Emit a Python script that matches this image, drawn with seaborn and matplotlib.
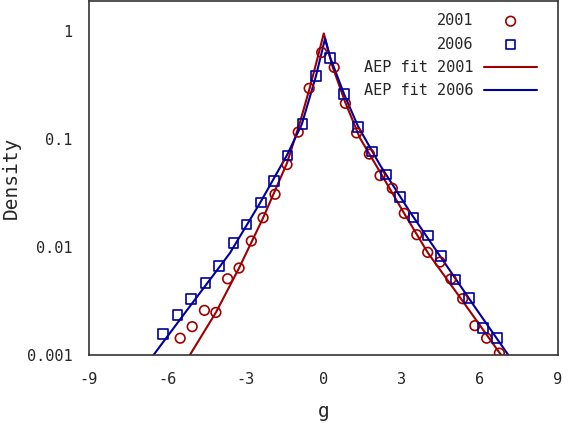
import matplotlib
matplotlib.use("Agg")
import matplotlib.pyplot as plt
import numpy as np
import pandas as pd
import seaborn as sns
from matplotlib.ticker import FixedLocator, NullFormatter, LogLocator

g_2001 = [-5.50, -5.04, -4.57, -4.13, -3.68, -3.24, -2.77, -2.32, -1.86, -1.40,
          -0.97, -0.55, -0.07, 0.41, 0.84, 1.27, 1.76, 2.17, 2.64, 3.10,
          3.58, 4.00, 4.47, 4.89, 5.34, 5.81, 6.26, 6.75]
d_2001 = [0.00143, 0.00183, 0.00259, 0.00248, 0.00508, 0.00639, 0.01137, 0.01867, 0.0308, 0.0581,
          0.116, 0.295, 0.635, 0.461, 0.214, 0.114, 0.0726, 0.0459, 0.0350, 0.0205,
          0.0130, 0.00893, 0.00726, 0.00506, 0.00332, 0.00187, 0.00143, 0.00104]

g_2006 = [-6.16, -5.61, -5.08, -4.53, -4.01, -3.46, -2.95, -2.40, -1.90, -1.38,
          -0.81, -0.28, 0.25, 0.79, 1.32, 1.87, 2.40, 2.93, 3.45, 4.00,
          4.51, 5.06, 5.58, 6.13, 6.66]
d_2006 = [0.00156, 0.00235, 0.00328, 0.00467, 0.00667, 0.01096, 0.01623, 0.0259, 0.0409, 0.0704,
          0.138, 0.383, 0.566, 0.261, 0.130, 0.0769, 0.0469, 0.0292, 0.0187, 0.0128,
          0.00826, 0.00502, 0.00339, 0.00177, 0.00143]

# AEP fit curves
fit_g_2001 = [-5.15, -4.12, -3.24, -2.32, -1.40, -0.90, -0.52, -0.21, 0.01,
              0.35, 0.83, 1.40, 2.17, 3.09, 4.01, 5.31, 6.84]
fit_d_2001 = [0.00098, 0.00250, 0.00639, 0.01857, 0.0600, 0.1437, 0.303, 0.587, 0.952,
              0.467, 0.220, 0.102, 0.0495, 0.0206, 0.00880, 0.00323, 0.00098]
fit_g_2006 = [-6.55, -5.12, -3.59, -2.44, -1.40, -0.83, -0.29, 0.06,
              0.25, 0.79, 1.32, 2.17, 3.32, 4.47, 5.81, 7.13]
fit_d_2006 = [0.00098, 0.00284, 0.00880, 0.0255, 0.0711, 0.1377, 0.383, 0.853,
              0.574, 0.261, 0.132, 0.0574, 0.0211, 0.00826, 0.00278, 0.00097]

red = '#9e0000'
blue = '#00009c'

sns.set_style('white')
plt.rcParams['font.family'] = ['DejaVu Sans Mono', 'DejaVu Sans']

pts_2001 = pd.DataFrame({'g': g_2001, 'Density': d_2001})
pts_2006 = pd.DataFrame({'g': g_2006, 'Density': d_2006})
fit_2001 = pd.DataFrame({'g': fit_g_2001, 'Density': fit_d_2001})
fit_2006 = pd.DataFrame({'g': fit_g_2006, 'Density': fit_d_2006})

fig = plt.figure(figsize=(5.69, 4.23), dpi=100)
ax = fig.add_axes([0.1564, 0.1608, 0.8243, 0.8368])

sns.scatterplot(data=pts_2001, x='g', y='Density', ax=ax, marker='o', s=48,
                facecolor='none', edgecolor=red, linewidth=1.2, label='2001', zorder=3)
sns.scatterplot(data=pts_2006, x='g', y='Density', ax=ax, marker='s', s=48,
                facecolor='none', edgecolor=blue, linewidth=1.2, label='2006', zorder=3)
sns.lineplot(data=fit_2001, x='g', y='Density', ax=ax, color=red, linewidth=1.5,
             sort=False, estimator=None, label='AEP fit 2001', zorder=2)
sns.lineplot(data=fit_2006, x='g', y='Density', ax=ax, color=blue, linewidth=1.5,
             sort=False, estimator=None, label='AEP fit 2006', zorder=2)

ax.set_yscale('log')
ax.set_xlim(-9, 9)
ax.set_ylim(0.001, 1.9)
ax.set_xticks([-9, -6, -3, 0, 3, 6, 9])
ax.set_xticklabels(['-9', '-6', '-3', '0', '3', '6', '9'])
ax.yaxis.set_major_locator(FixedLocator([0.001, 0.01, 0.1, 1]))
ax.set_yticklabels(['0.001', '0.01', '0.1', '1'])
ax.yaxis.set_minor_locator(LogLocator(base=10, subs=np.arange(2, 10)))
ax.yaxis.set_minor_formatter(NullFormatter())

ax.tick_params(axis='both', which='major', direction='in', length=8, width=1,
               color='#555555', labelsize=11, pad=12)
ax.tick_params(axis='y', which='minor', direction='in', length=4, width=1, color='#555555')
ax.tick_params(axis='x', which='minor', length=0)
for s in ax.spines.values():
    s.set_color('#333333')
    s.set_linewidth(1.2)

ax.set_xlabel('g', fontsize=14, labelpad=11)
ax.set_ylabel('Density', fontsize=14, labelpad=4)

ax.legend(loc='upper right', frameon=False, markerfirst=False, fontsize=11,
          handlelength=3.5, handletextpad=0.7, labelspacing=0.55,
          borderaxespad=0.4, bbox_to_anchor=(0.982, 1.0))

fig.savefig('out.png', dpi=100)
